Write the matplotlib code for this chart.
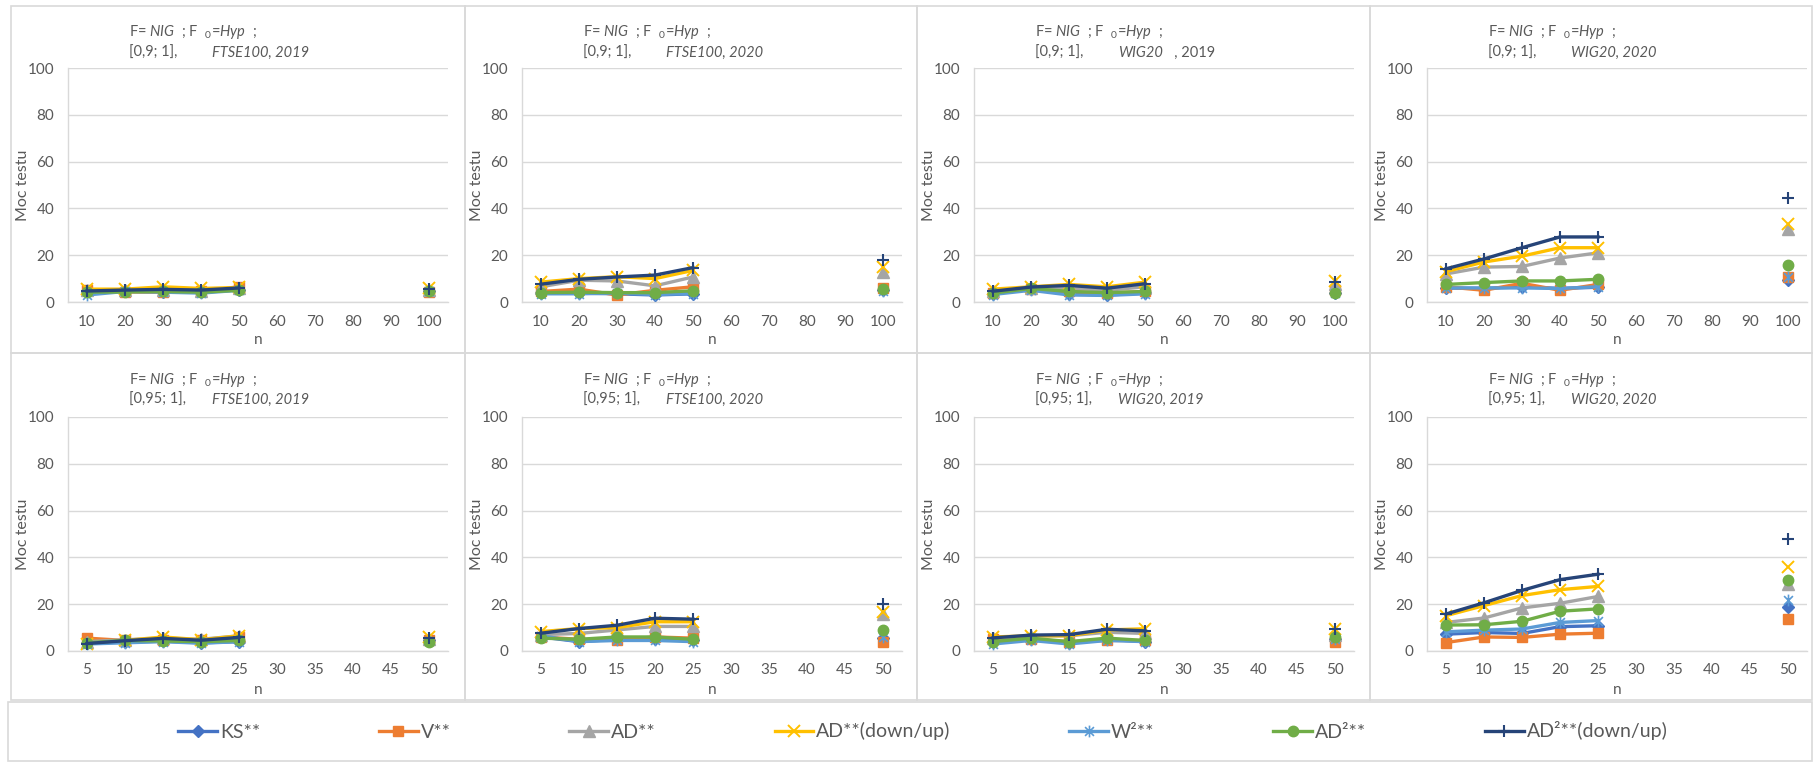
import numpy as np
import matplotlib
matplotlib.use("Agg")
import matplotlib.pyplot as plt
from matplotlib.path import Path
from matplotlib.patches import Rectangle

plt.rcParams['font.family'] = ['Lato', 'DejaVu Sans']
plt.rcParams['mathtext.fontset'] = 'custom'
plt.rcParams['mathtext.rm'] = 'Lato'
plt.rcParams['mathtext.it'] = 'Lato:italic'
plt.rcParams['mathtext.bf'] = 'Lato:bold'

# ---- data ----------------------------------------------------------------
n_top = ['10', '20', '30', '40', '50', '60', '70', '80', '90', '100']
n_bottom = ['5', '10', '15', '20', '25', '30', '35', '40', '45', '50']
observed_idx = [0, 1, 2, 3, 4, 9]   # categories with simulated results

intervals = ['[0,9; 1],'] * 4 + ['[0,95; 1],'] * 4
sample_names = ['FTSE100, 2019', 'FTSE100, 2020', 'WIG20', 'WIG20, 2020',
                'FTSE100, 2019', 'FTSE100, 2020', 'WIG20, 2019', 'WIG20, 2020']
sample_suffix = ['', '', '   , 2019', '', '', '', '', '']

# rows: panels (top row left->right, then bottom row); columns: observed n
ks = [[4.5, 4.6, 4.4, 4.2, 5.2, 4.6],
      [3.8, 3.8, 3.5, 3.0, 3.5, 5.0],
      [3.5, 5.5, 3.5, 3.0, 3.8, 4.0],
      [6.0, 5.8, 6.5, 5.8, 6.3, 9.5],
      [3.5, 3.8, 4.2, 3.5, 4.0, 4.5],
      [6.0, 4.0, 5.0, 5.0, 4.5, 5.5],
      [4.0, 5.0, 3.5, 5.0, 4.0, 5.0],
      [7.2, 7.9, 7.5, 10.4, 10.8, 18.7]]
v = [[5.0, 4.3, 4.2, 4.6, 6.5, 4.2],
     [4.5, 5.5, 3.0, 5.0, 6.5, 6.0],
     [4.0, 5.5, 4.5, 3.8, 4.5, 5.0],
     [6.5, 5.0, 8.0, 5.0, 7.5, 10.5],
     [5.5, 4.5, 4.5, 4.5, 6.0, 4.5],
     [6.0, 5.0, 4.8, 6.0, 5.5, 4.0],
     [5.0, 5.0, 4.0, 4.5, 4.5, 4.0],
     [3.6, 6.0, 5.8, 7.2, 7.6, 13.7]]
ad = [[5.2, 5.0, 5.0, 4.8, 5.8, 5.0],
      [6.5, 9.3, 9.0, 6.9, 10.7, 12.9],
      [4.5, 6.0, 6.0, 5.0, 6.5, 7.5],
      [12.0, 14.9, 15.2, 18.8, 21.0, 31.2],
      [4.0, 4.8, 5.5, 5.0, 6.5, 5.0],
      [7.0, 7.5, 9.0, 10.5, 10.5, 16.0],
      [5.5, 6.5, 6.5, 8.0, 7.5, 7.0],
      [12.2, 14.1, 18.4, 20.4, 23.3, 28.8]]
ad_du = [[5.5, 5.5, 6.5, 5.8, 6.2, 5.8],
         [8.5, 10.0, 10.8, 10.0, 13.5, 14.8],
         [5.5, 6.5, 7.5, 6.5, 8.5, 9.0],
         [13.0, 17.1, 19.6, 23.2, 23.2, 33.5],
         [3.0, 4.5, 6.0, 4.8, 6.5, 6.0],
         [8.3, 9.6, 10.0, 12.5, 12.5, 16.5],
         [6.0, 6.5, 6.5, 9.0, 9.5, 9.5],
         [15.1, 19.4, 23.7, 26.2, 27.6, 35.7]]
w2 = [[3.0, 4.5, 4.2, 3.8, 5.0, 4.8],
      [3.5, 3.5, 3.8, 3.2, 3.6, 4.5],
      [3.2, 5.0, 3.0, 2.8, 3.5, 3.8],
      [6.0, 6.0, 6.0, 5.8, 6.5, 10.5],
      [3.0, 3.5, 4.0, 3.3, 4.0, 4.2],
      [6.5, 4.0, 4.5, 4.5, 4.0, 6.0],
      [3.0, 4.5, 3.0, 4.5, 4.0, 5.0],
      [8.2, 8.9, 9.4, 12.2, 13.0, 21.6]]
ad2 = [[4.2, 4.3, 4.5, 4.2, 5.0, 4.8],
       [4.0, 4.2, 4.0, 4.0, 4.8, 5.5],
       [3.8, 5.8, 4.5, 4.0, 4.5, 4.0],
       [7.5, 8.3, 9.0, 9.0, 9.7, 15.8],
       [3.5, 4.5, 4.3, 4.0, 4.5, 4.0],
       [5.5, 5.0, 6.0, 6.0, 5.0, 9.0],
       [4.0, 5.5, 4.0, 5.5, 4.5, 6.0],
       [11.1, 11.2, 12.7, 17.0, 18.0, 30.2]]
ad2_du = [[4.7, 5.1, 5.4, 5.1, 6.0, 5.4],
          [7.6, 9.7, 10.7, 11.5, 14.7, 17.8],
          [4.6, 6.4, 7.1, 5.9, 7.8, 8.5],
          [14.2, 18.4, 23.2, 27.8, 27.8, 44.6],
          [3.2, 4.4, 5.4, 4.6, 5.8, 5.6],
          [7.6, 9.6, 11.0, 14.0, 13.6, 20.0],
          [5.6, 6.8, 7.0, 9.3, 8.6, 9.2],
          [15.8, 20.6, 25.9, 30.5, 32.8, 47.8]]

labels = ['KS**', 'V**', 'AD**', 'AD**(down/up)', 'W²**', 'AD²**', 'AD²**(down/up)']
series = [ks, v, ad, ad_du, w2, ad2, ad2_du]

# ---- styling -------------------------------------------------------------
star = Path([(0, -1), (0, 1), (-0.75, -0.75), (0.75, 0.75), (-0.75, 0.75), (0.75, -0.75)],
            [Path.MOVETO, Path.LINETO, Path.MOVETO, Path.LINETO, Path.MOVETO, Path.LINETO])
colors = ['#4472C4', '#ED7D31', '#A5A5A5', '#FFC000', '#5B9BD5', '#70AD47', '#264478']
markers = ['D', 's', '^', 'x', star, 'o', '+']
msizes = [6.5, 7.5, 8, 8, 8.5, 7.5, 8.5]
mews = [1, 1, 1, 1.4, 1.2, 1, 1.5]
TXT = '#595959'
GRID = '#d9d9d9'

W, H = 1813, 762
fig = plt.figure(figsize=(W / 100, H / 100), dpi=100)
fig.patch.set_facecolor('white')


def fx(px):
    return px / W


def fy(py):
    return 1 - py / H


def frame(x0, y0, x1, y1):
    fig.add_artist(Rectangle((fx(x0), fy(y1)), fx(x1 - x0), (y1 - y0) / H,
                             transform=fig.transFigure, fill=False,
                             ec=GRID, lw=1.2))


panel_left = [11, 465, 917, 1370]
panel_right = [465, 917, 1370, 1812]
rows = [dict(top=6, bot=353, y100=68, y0=302, t1=32, t2=53, tick=323, nlab=340),
        dict(top=353, bot=700, y100=417, y0=651, t1=380, t2=400, tick=672, nlab=690)]

handles = []
for r, row in enumerate(rows):
    cats = n_top if r == 0 else n_bottom
    for c in range(4):
        p = r * 4 + c
        pl = panel_left[c]
        frame(pl, row['top'], panel_right[c], row['bot'])

        ax_l, ax_r = pl + 57, pl + 437
        ax = fig.add_axes([fx(ax_l), fy(row['y0']), fx(ax_r - ax_l),
                           (row['y0'] - row['y100']) / H])
        ax.set_xlim(-0.5, 9.5)
        ax.set_ylim(0, 100)
        ax.set_yticks(range(0, 101, 20))
        ax.set_xticks(range(10))
        ax.set_xticklabels(cats)
        ax.tick_params(axis='both', length=0, labelsize=11, labelcolor=TXT)
        ax.tick_params(axis='y', pad=10)
        ax.tick_params(axis='x', pad=9)
        ax.grid(axis='y', color=GRID, lw=1)
        ax.set_axisbelow(True)
        for s in ['top', 'right']:
            ax.spines[s].set_visible(False)
        for s in ['left', 'bottom']:
            ax.spines[s].set_color(GRID)
            ax.spines[s].set_linewidth(1)
        ax.patch.set_alpha(0)

        for k, data in enumerate(series):
            y = np.full(10, np.nan)
            y[observed_idx] = data[p]
            ln, = ax.plot(np.arange(10), y, color=colors[k], lw=2.4,
                          marker=markers[k], ms=msizes[k], mew=mews[k],
                          mec=colors[k],
                          mfc='none' if k == 4 else colors[k],
                          label=labels[k], clip_on=False, zorder=3 + k)
            if p == 0:
                handles.append(ln)

        fig.text(fx(pl + 12), fy((row['y0'] + row['y100']) / 2), 'Moc testu',
                 rotation=90, ha='center', va='center', fontsize=11.5, color=TXT)
        fig.text(fx((ax_l + ax_r) / 2), fy(row['nlab']), 'n',
                 ha='center', va='center', fontsize=11, color=TXT)
        fig.text(fx(pl + 118), fy(row['t1']),
                 r'F= $\mathit{NIG}$  ; F  $_\mathrm{0}$=$\mathit{Hyp}$  ;',
                 ha='left', va='center', fontsize=10.5, color=TXT)
        fig.text(fx(pl + 118), fy(row['t2']), intervals[p],
                 ha='left', va='center', fontsize=10.5, color=TXT)
        it = fig.text(fx(pl + 201), fy(row['t2']), sample_names[p],
                      ha='left', va='center', fontsize=10.5, color=TXT,
                      fontstyle='italic')
        if sample_suffix[p]:
            ax.annotate(sample_suffix[p], xy=(1, 0), xycoords=it,
                        ha='left', va='bottom', fontsize=10.5, color=TXT,
                        annotation_clip=False)

# legend box
frame(8, 702, 1812, 761)
leg = fig.legend(handles, labels, loc='center', bbox_to_anchor=(fx(923), fy(731)),
                 ncol=7, frameon=False, fontsize=14, handlelength=2.0,
                 handletextpad=0.15, columnspacing=6.1, labelcolor=TXT)

fig.savefig('out.png', dpi=100, facecolor='white')
